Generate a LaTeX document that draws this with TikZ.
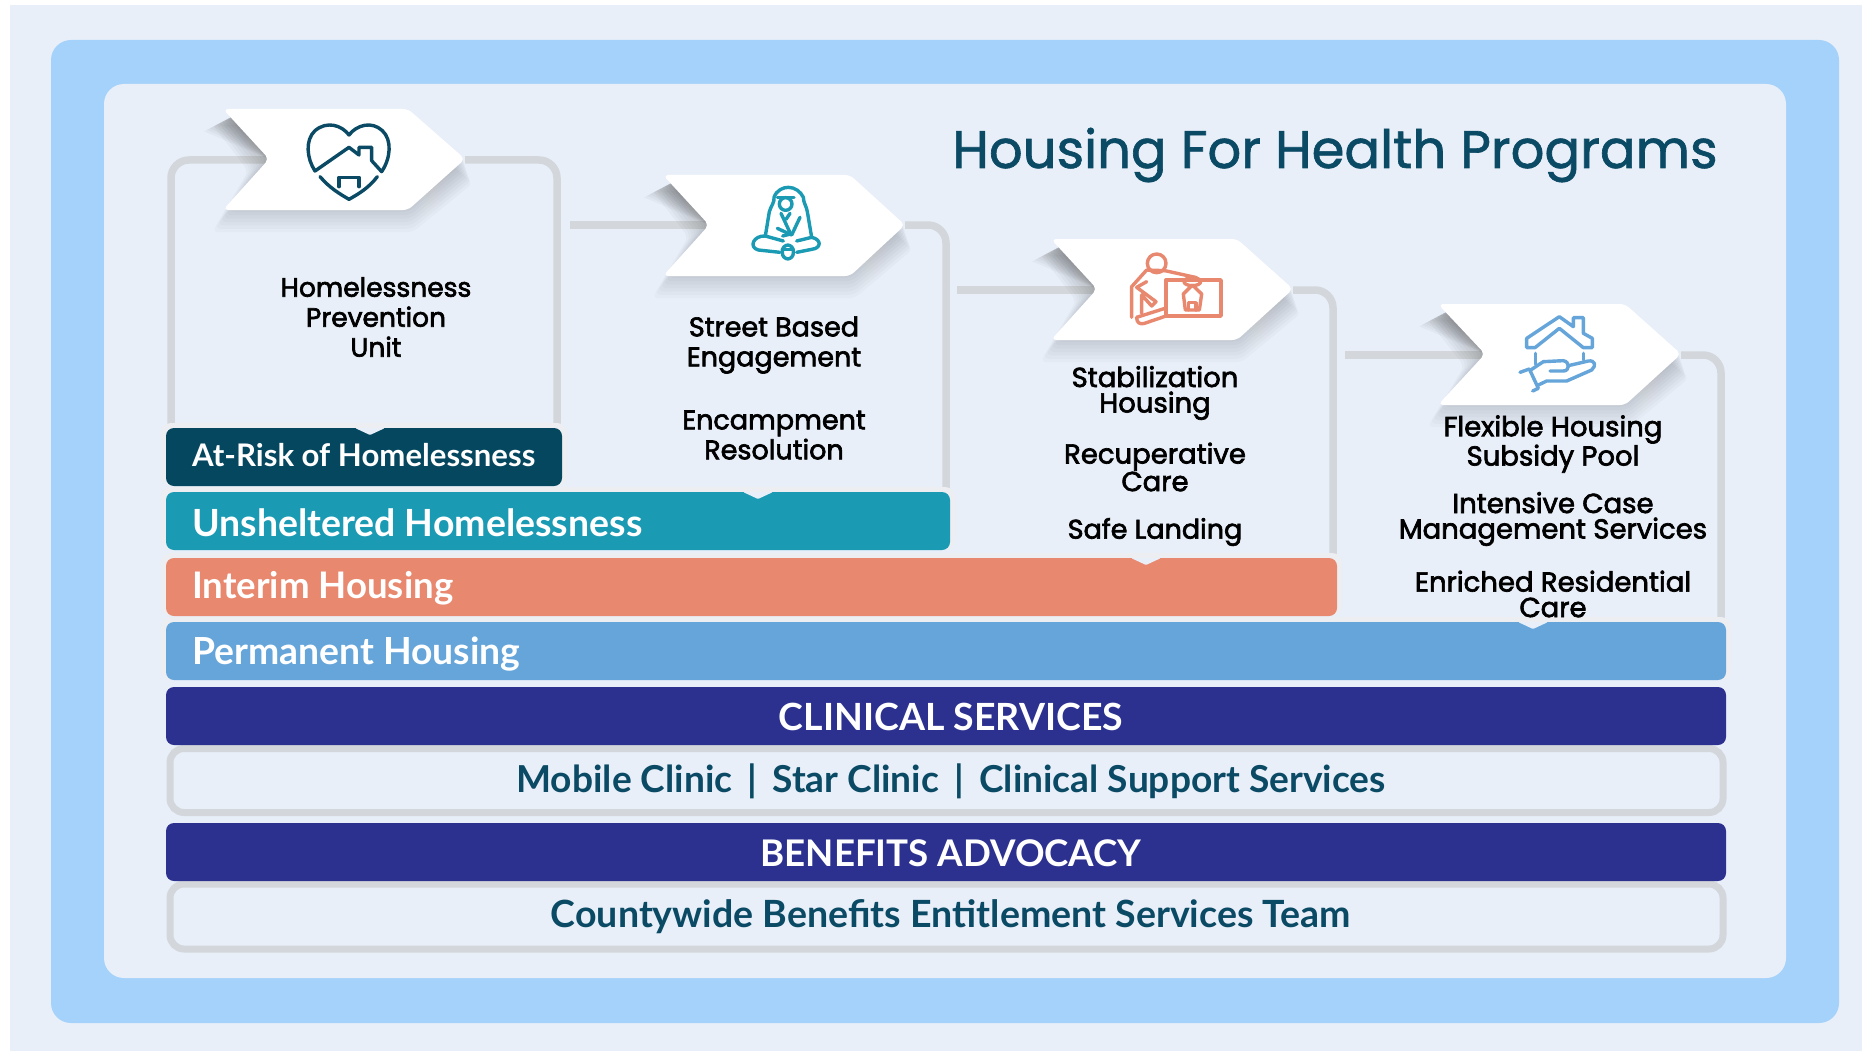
\documentclass[tikz,border=0pt]{standalone}
\usepackage{fontspec}
\usepackage{graphicx}
\setmainfont{Lato}
\newfontfamily\labfont[FakeBold=2.4]{Poppins}
\newfontfamily\titlefont[FakeBold=1.2]{Poppins}
\newfontfamily\barfont{Lato}[BoldFont={Lato Bold}]
\definecolor{pagebg}{HTML}{E8EFF9}
\definecolor{skyband}{HTML}{A5D2FB}
\definecolor{rulegrey}{HTML}{D3D7DB}
\definecolor{halo}{HTML}{ECEEF2}
\definecolor{atrisk}{HTML}{05475F}
\definecolor{unshelt}{HTML}{1B9AB4}
\definecolor{interim}{HTML}{E8886F}
\definecolor{perm}{HTML}{65A5DA}
\definecolor{navy}{HTML}{2C3190}
\definecolor{tealtext}{HTML}{0B4A64}
\definecolor{shade}{HTML}{8A97AC}
\newcommand{\fitw}[2]{\resizebox{#1pt}{!}{#2}}
\newcommand{\chev}[5]{%
  % #1 left x, #2 top y, #3 notch x, #4 shoulder x, #5 tip x
  \foreach \i in {1,...,8}{
    \fill[shade,opacity=.018,rounded corners=6pt]
      ({#1+10-2.6*\i},{#2+4+1.4*\i}) -- ({#4+.6*\i},{#2+3*\i}) -- ({#5+\i},{#2+50+3*\i})
      -- ({#4+.6*\i},{#2+96+3.4*\i}) -- ({#1+10-2.6*\i},{#2+96+3.4*\i}) -- ({#3-2.6*\i},{#2+50+1.5*\i}) -- cycle;
  }
  \foreach \i in {1,...,9}{
    \fill[shade,opacity=.022] ({#1+8-3*\i},{#2+8+1.6*\i}) -- (#3,#2+50) -- ({#1+25},#2) -- cycle;
  }
  \fill[white,rounded corners=5pt] (#1,#2) -- (#4,#2) -- (#5,#2+50) -- (#4,#2+101) -- (#1,#2+101) -- (#3,#2+50) -- cycle;
}
\tikzset{
  x=1pt,y=-1pt,
  link/.style={draw=rulegrey,line width=7.5pt,rounded corners=18pt},
  bar/.style={rectangle,rounded corners=8pt,minimum height=58pt,inner sep=0pt,draw=none},
  barhalo/.style={fill=halo,rounded corners=10pt},
  frame/.style={draw=rulegrey,line width=7pt,rounded corners=14pt},
  lab/.style={font=\labfont\fontsize{27}{30}\selectfont,text=black,align=center,inner sep=0pt},
  labtight/.style={lab,font=\labfont\fontsize{27.5}{25.5}\selectfont},
  bartext/.style={font=\barfont\bfseries,text=white,inner sep=0pt,anchor=west},
  darktext/.style={font=\barfont\bfseries,text=tealtext,inner sep=0pt},
  tab/.style={fill=pagebg},
  ico/.style={line width=3.4pt,line join=round,line cap=round},
}
\begin{document}
\begin{tikzpicture}
\useasboundingbox (0,0) rectangle (1862,1051);
\fill[white] (0,0) rectangle (1862,1051);
\fill[pagebg] (10,5) rectangle (1862,1051);
\fill[skyband,rounded corners=20pt] (51,40) rectangle (1839,1023);
\fill[pagebg,rounded corners=20pt] (104,84) rectangle (1786,978);

\node[inner sep=0pt] (title) at (1335,155) {\fitw{765}{\color{tealtext}\titlefont Housing For Health Programs}};

% free ends and joints
\coordinate (n1) at (269,160); \coordinate (t1) at (465,160);
\coordinate (n2) at (709,225); \coordinate (t2) at (905,225);
\coordinate (n3) at (1097,290); \coordinate (t3) at (1293,290);
\coordinate (n4) at (1485,355); \coordinate (t4) at (1681,355);
\coordinate (s2) at (570,225); \coordinate (s3) at (957,290); \coordinate (s4) at (1345,355);
\coordinate (d1l) at (171,424); \coordinate (d1r) at (557,424);
\coordinate (d2) at (946,488); \coordinate (d3) at (1333,554); \coordinate (d4) at (1721,618);

% connectors
\draw[link] (n1) -| (d1l);
\draw[link] (t1) -| (d1r);
\draw[link] (s2) -- (n2);
\draw[link] (t2) -| (d2);
\draw[link] (s3) -- (n3);
\draw[link] (t3) -| (d3);
\draw[link] (s4) -- (n4);
\draw[link] (t4) -| (d4);

% chevrons
\chev{223}{109}{269}{408}{465}
\chev{663}{175}{709}{850}{905}
\chev{1051}{239}{1097}{1237}{1293}
\chev{1438}{304}{1485}{1625}{1681}

% icon 1: heart and house
\begin{scope}[shift={(150,90)},xscale=1/3,yscale=1/3,ico,draw=tealtext]
\draw (495,243) .. controls (470,205) and (465,150) .. (495,122) .. controls (530,92) and (575,105) .. (597,135)
  .. controls (620,105) and (665,92) .. (697,122) .. controls (727,150) and (722,205) .. (695,245)
  -- (665,212) -- (665,172) -- (627,172) -- (627,195) -- (597,172) -- cycle;
\draw (510,260) .. controls (540,295) and (570,312) .. (597,328) .. controls (625,312) and (655,295) .. (682,260);
\draw (567,290) -- (567,262) -- (627,262) -- (627,290);
\end{scope}

% icon 2: seated figure
\begin{scope}[shift={(640,160)},xscale=1/3,yscale=1/3,ico,draw=unshelt]
\draw (376,228) -- (388,155) .. controls (392,140) and (405,125) .. (402,112) .. controls (410,90) and (430,82) .. (445,82)
  .. controls (465,82) and (482,95) .. (490,112) .. controls (490,128) and (500,140) .. (502,155) -- (515,232);
\draw (437,132) circle [radius=19];
\draw (412,112) -- (462,112);
\draw (423,160) -- (452,222);
\draw (412,205) -- (455,225) -- (480,172);
\draw (450,160) -- (438,178);
\draw (428,228) -- (452,222);
\draw (376,228) .. controls (340,226) and (325,262) .. (355,270) -- (420,277);
\draw (515,232) .. controls (545,238) and (545,265) .. (515,268) -- (470,277);
\draw (376,228) -- (430,243);
\draw (470,243) -- (515,232);
\draw[rounded corners=6pt] (427,255) rectangle (460,297);
\draw (427,268) -- (460,268);
\end{scope}

% icon 3: person and box
\begin{scope}[shift={(1030,230)},xscale=1/3,yscale=1/3,ico,draw=interim]
\draw (380,100) circle [radius=28];
\draw (408,150) -- (573,150) -- (573,258) -- (408,258) -- cycle;
\draw (405,122) -- (500,143);
\draw (487,155) ellipse [x radius=25,y radius=12];
\draw (350,120) -- (305,170) -- (305,262);
\draw (350,155) -- (320,172) -- (378,215) -- (365,228) -- (335,195) -- (335,250);
\draw (350,120) -- (405,122);
\draw (320,262) -- (405,235);
\draw[rounded corners=8pt] (320,262) -- (320,288) -- (408,258);
\draw (460,192) -- (487,165) -- (515,192) -- (508,240) -- (466,240) -- cycle;
\draw (475,240) -- (475,218) -- (498,218) -- (498,240);
\end{scope}

% icon 4: house on hand
\begin{scope}[shift={(1400,295)},xscale=1/3,yscale=1/3,ico,draw=perm]
\draw (405,158) -- (380,158) -- (380,130) -- (478,65) -- (520,95) -- (520,68) -- (550,68) -- (550,115) -- (577,130) -- (577,158) -- (550,158) -- (478,100) -- cycle;
\draw (407,175) -- (407,208);
\draw (550,175) -- (550,195);
\draw (360,232) -- (388,222) -- (415,280) -- (398,288);
\draw (392,225) -- (430,200) -- (490,197) .. controls (510,200) and (510,228) .. (490,228) -- (450,228);
\draw (505,212) -- (565,198) .. controls (585,195) and (590,212) .. (575,225) -- (500,258) -- (440,258) -- (415,270);
\end{scope}

% service frames
\draw[frame] (170,748.5) rectangle (1723,812.5);
\draw[frame] (170,884) rectangle (1723,949);

% halos
\fill[barhalo] (161,423) rectangle (567,486);
\fill[barhalo] (161,487) rectangle (955,550);
\fill[barhalo] (161,553) rectangle (1342,616);
\fill[barhalo] (161,617) rectangle (1731,680);

% bars
\node[bar,fill=perm,minimum width=1560pt] (permbar) at (946,651) {};
\node[bar,fill=interim,minimum width=1171pt] (intbar) at (751.5,587) {};
\node[bar,fill=unshelt,minimum width=784pt] (unsbar) at (558,521) {};
\node[bar,fill=atrisk,minimum width=396pt] (riskbar) at (364,457) {};
\node[bar,fill=navy,minimum width=1560pt] (clinbar) at (946,716) {};
\node[bar,fill=navy,minimum width=1560pt] (benebar) at (946,852) {};

% tabs on the bars
\fill[tab,rounded corners=1pt] (355,428) -- (385,428) -- (370,435) -- cycle;
\fill[tab,rounded corners=1pt] (743,492) -- (773,492) -- (758,499) -- cycle;
\fill[tab,rounded corners=1pt] (1131,558) -- (1161,558) -- (1146,565) -- cycle;
\fill[tab,rounded corners=1pt] (1518,622) -- (1548,622) -- (1533,629) -- cycle;

% bar texts
\node[bartext] (trisk) at (192,455) {\fitw{343}{At-Risk of Homelessness}};
\node[bartext] (tuns) at (192,523) {\fitw{450}{Unsheltered Homelessness}};
\node[bartext] (tint) at (192,588) {\fitw{261}{Interim Housing}};
\node[bartext] (tperm) at (192,654) {\fitw{328}{Permanent Housing}};
\node[inner sep=0pt,font=\barfont\bfseries,text=white] (tclin) at (951,717) {\fitw{344}{CLINICAL SERVICES}};
\node[darktext] (tmob) at (951,781) {\fitw{869}{Mobile Clinic\, | \,Star Clinic\, | \,Clinical Support Services}};
\node[inner sep=0pt,font=\barfont\bfseries,text=white] (tben) at (951,853) {\fitw{381}{BENEFITS ADVOCACY}};
\node[darktext] (tcty) at (951,917) {\fitw{800}{Countywide Benefits Entitlement Services Team}};

% programme labels
\node[lab,font=\labfont\fontsize{26.5}{30}\selectfont] (l1) at (376,317) {Homelessness\\Prevention\\Unit};
\node[lab] (l2a) at (774,345) {Street Based\\Engagement};
\node[lab] (l2b) at (774,435) {Encampment\\Resolution};
\node[labtight] (l3a) at (1155,393) {Stabilization\\Housing};
\node[labtight] (l3b) at (1155,467) {Recuperative\\Care};
\node[lab] (l3c) at (1155,532) {Safe Landing};
\node[labtight] (l4a) at (1553,444) {Flexible Housing\\Subsidy Pool};
\node[labtight] (l4b) at (1553,519) {Intensive Case\\Management Services};
\node[labtight] (l4c) at (1553,594) {Enriched Residential\\Care};
\end{tikzpicture}
\end{document}
